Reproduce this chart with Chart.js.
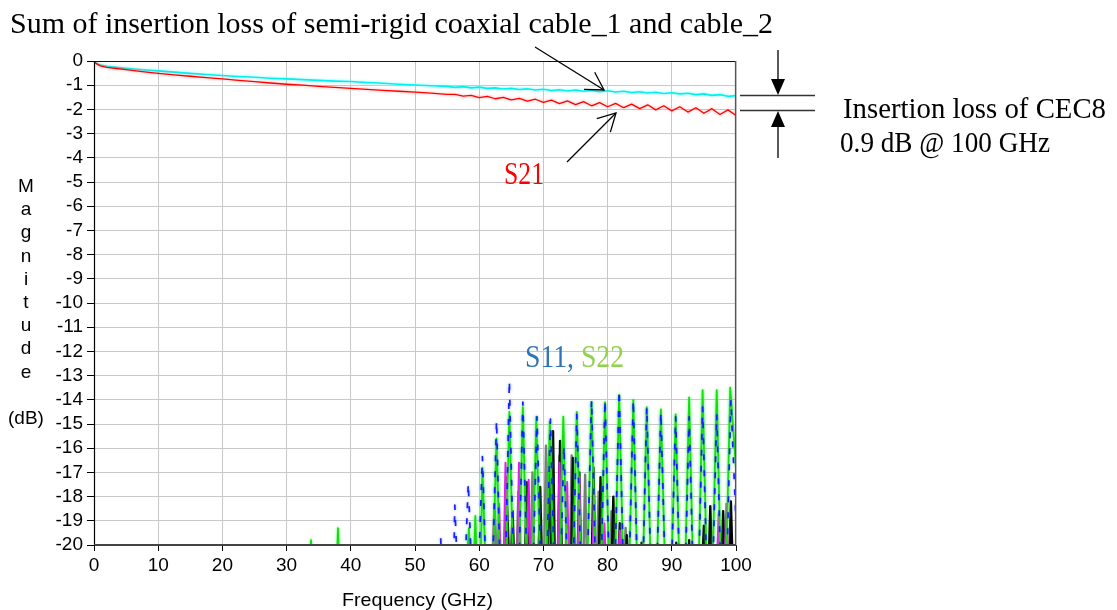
<!DOCTYPE html>
<html><head><meta charset="utf-8">
<script src="https://cdn.jsdelivr.net/npm/chart.js@4.4.1/dist/chart.umd.min.js"></script>
<style>
html,body{margin:0;padding:0;background:#fff;}
#wrap{position:relative;width:1117px;height:610px;overflow:hidden;background:#fff;}
canvas{position:absolute;left:0;top:0;}
.t{position:absolute;white-space:nowrap;transform-origin:0 0;}
.serif{font-family:"Liberation Serif","DejaVu Serif",serif;}
.sans{font-family:"Liberation Sans",Arial,sans-serif;}
</style></head><body>
<div id="wrap">
<canvas id="c" width="1117" height="610"></canvas>
<div class="t serif fit" data-w="763" style="left:10px;top:8px;font-size:30px;line-height:30px;color:#000;">Sum of insertion loss of semi-rigid coaxial cable_1 and cable_2</div>
<div class="t serif fit" data-w="263" style="left:843px;top:93px;font-size:30px;line-height:30px;color:#000;">Insertion loss of CEC8</div>
<div class="t serif fit" data-w="210" style="left:840px;top:127px;font-size:30px;line-height:30px;color:#000;">0.9 dB @ 100 GHz</div>
<div class="t serif fit" data-w="40" style="left:504px;top:157px;font-size:32px;line-height:32px;color:#ff0000;">S21</div>
<div class="t serif fit" data-w="99" style="left:525px;top:340px;font-size:32px;line-height:32px;"><span style="color:#2e75b6">S11, </span><span style="color:#92d050">S22</span></div>
<div class="t sans fit" data-w="151" style="left:342px;top:590px;font-size:19px;line-height:19px;color:#000;">Frequency (GHz)</div>
<div class="t sans" style="left:0px;top:174px;width:52px;text-align:center;font-size:19px;line-height:23.2px;color:#000;">M<br>a<br>g<br>n<br>i<br>t<br>u<br>d<br>e<br>&nbsp;<br>(dB)</div>
</div>
<script>
// ---------- data ----------
const xTicks = [0,10,20,30,40,50,60,70,80,90,100];
const yTicks = [0,-1,-2,-3,-4,-5,-6,-7,-8,-9,-10,-11,-12,-13,-14,-15,-16,-17,-18,-19,-20];

// Sum of insertion loss of semi-rigid coaxial cable_1 and cable_2 (cyan)
const cableFreq = [0,0.3,1,2,3.5,5,7.5,10,12.5,15,17.5,20,22.5,25,27.5,30,32.5,35,37.5,40,42.5,45,47.5,50,52.5,55,
  56.25,57.5,58.75,60,61.25,62.5,63.75,65,66.25,67.5,68.75,70,71.25,72.5,73.75,75,76.25,77.5,78.75,80,
  81.25,82.5,83.75,85,86.25,87.5,88.75,90,91.25,92.5,93.75,95,96.25,97.5,98.75,100];
const cableMag = [0,-0.09,-0.17,-0.22,-0.26,-0.3,-0.36,-0.41,-0.46,-0.51,-0.56,-0.6,-0.64,-0.67,-0.71,-0.74,-0.77,-0.8,-0.83,-0.85,-0.89,-0.92,-0.96,-0.99,-1.02,-1.05,
  -1.09,-1.06,-1.11,-1.08,-1.13,-1.11,-1.16,-1.13,-1.18,-1.15,-1.2,-1.17,-1.22,-1.19,-1.24,-1.2,-1.25,-1.22,-1.27,-1.23,
  -1.28,-1.25,-1.3,-1.27,-1.32,-1.29,-1.34,-1.31,-1.36,-1.33,-1.39,-1.36,-1.42,-1.39,-1.46,-1.43];

// S21 (red)
const s21Freq = [0,0.3,1,2,3.5,5,7.5,10,12.5,15,17.5,20,22.5,25,27.5,30,32.5,35,37.5,40,42.5,45,47.5,50,52.5,55,
  56.25,57.5,58.75,60,61.25,62.5,63.75,65,66.25,67.5,68.75,70,71.25,72.5,73.75,75,76.25,77.5,78.75,80,
  81.25,82.5,83.75,85,86.25,87.5,88.75,90,91.25,92.5,93.75,95,96.25,97.5,98.75,100];
const s21Mag = [0,-0.1,-0.2,-0.26,-0.31,-0.36,-0.44,-0.51,-0.57,-0.63,-0.69,-0.74,-0.8,-0.85,-0.91,-0.96,-1.0,-1.05,-1.09,-1.13,-1.17,-1.21,-1.25,-1.29,-1.33,-1.38,
  -1.38,-1.45,-1.42,-1.51,-1.46,-1.56,-1.5,-1.61,-1.54,-1.66,-1.58,-1.71,-1.62,-1.76,-1.65,-1.8,-1.68,-1.85,-1.72,-1.89,
  -1.75,-1.93,-1.78,-1.97,-1.81,-2.02,-1.85,-2.06,-1.89,-2.11,-1.93,-2.16,-1.97,-2.21,-2.02,-2.25];

// S11 (blue)
const s11Freq = [53.8,54.0,54.2,55.9,56.2,57.2,58.3,59.4,60.5,61.6,62.7,63.7,64.7,65.75,66.8,67.9,69.0,70.05,71.1,72.15,73.2,74.2,75.2,
  76.35,77.5,78.55,79.6,80.7,81.8,82.9,84.0,85.05,86.1,87.2,88.3,89.45,90.6,91.65,92.7,93.75,94.8,95.9,97.0,98.1,99.2,100];
const s11Mag = [-21,-19.7,-21,-23,-18.35,-25,-17.45,-25,-16.35,-26,-14.85,-26,-13.2,-26,-14.1,-26,-14.7,-26,-14.8,-26,-15.9,-26,-14.6,
  -26,-14.0,-26,-14.0,-26,-13.6,-26,-14.0,-26,-14.3,-26,-14.5,-26,-14.7,-26,-14.7,-26,-14.3,-26,-14.6,-26,-14.0,-19];

// S22 (green)
const s22Freq = [33.6,33.8,34.0,37.8,38.0,38.2,58.0,58.4,58.9,59.4,60.0,60.5,61.6,62.7,63.7,64.7,65.75,66.8,67.85,68.9,69.95,71.0,72.05,73.1,74.15,75.2,
  76.35,77.5,78.55,79.6,80.7,81.8,82.9,84.0,85.05,86.1,87.2,88.3,89.45,90.6,91.65,92.7,93.75,94.8,95.9,97.0,98.05,99.1,100];
const s22Mag = [-21,-19.8,-21,-21,-19.3,-21,-21,-19.3,-23,-18.8,-24,-16.8,-26,-15.6,-26,-14.5,-26,-14.3,-26,-14.7,-26,-14.9,-26,-14.7,-26,-14.5,
  -26,-14.1,-26,-14.1,-26,-13.8,-26,-14.0,-26,-14.3,-26,-14.4,-26,-14.6,-26,-13.9,-26,-13.6,-26,-13.6,-26,-13.5,-16.8];

// other traces (black, gray, magenta)
const blackFreq = [63.9,64.2,64.7,64.9,65.2,65.5,67.1,67.4,67.7,69.2,69.5,69.8,70.6,70.9,71.2,71.3,71.5,71.8,72.3,72.6,72.9,74.3,74.6,74.9,75.3,75.6,75.9,
  77.5,77.8,78.1,78.6,78.9,79.2,80.6,80.9,81.2,81.6,81.9,82.2,82.7,83.0,83.3,85.1,85.3,85.5,90.5,90.7,90.9,92.5,92.7,92.9,94.7,95.0,95.3,95.7,96.0,96.3,97.7,98.0,98.3,98.9,99.2,99.5];
const blackMag = [-21,-17.2,-21,-21,-18.6,-21,-21,-17.4,-21,-21,-17.6,-21,-21,-16.2,-21,-21,-15.3,-21,-21,-15.7,-21,-21,-16.4,-21,-21,-17.0,-21,
  -21,-16.8,-21,-21,-17.2,-21,-21,-18.0,-21,-21,-19.1,-21,-21,-19.6,-21,-21,-19.9,-21,-21,-19.9,-21,-21,-19.8,-21,-21,-19.2,-21,-21,-18.4,-21,-21,-18.6,-21,-21,-18.2,-21];
const grayFreq = [62.0,62.4,62.8,65.8,66.1,66.4,68.0,68.3,68.6,70.1,70.4,70.7,72.2,72.5,72.8,74.1,74.4,74.7,76.2,76.5,76.8,78.3,78.6,78.9,80.3,80.6,80.9,82.5,82.8,83.1];
const grayMag = [-21,-18.3,-21,-21,-17.8,-21,-21,-17.0,-21,-21,-15.9,-21,-21,-16.3,-21,-21,-16.3,-21,-21,-17.1,-21,-21,-17.8,-21,-21,-18.6,-21,-21,-19.3,-21];
const magentaFreq = [62.1,62.3,62.5,62.8,63.1,63.4,63.8,64.1,64.4,65.9,66.2,66.5,67.4,67.7,68.0,72.2,72.5,72.8,73.4,73.7,74.0,75.3,75.6,75.9,77.6,77.9,78.2,79.2,79.5,79.8,81.6,81.9,82.2,97.0,97.3,97.6,98.2,98.5,98.8];
const magentaMag = [-21,-18.9,-21,-21,-18.3,-21,-21,-16.6,-21,-21,-16.6,-21,-21,-17.3,-21,-21,-16.6,-21,-21,-17.4,-21,-21,-17.2,-21,-21,-17.8,-21,-21,-19.1,-21,-21,-19.4,-21,-21,-18.7,-21,-21,-18.3,-21];

// ---------- chart ----------
const pts = (f, v) => f.map((x, i) => ({x: x, y: v[i]}));
const line = (label, f, v, color, width, order, extra) => Object.assign({
  label, data: pts(f, v), borderColor: color, borderWidth: width, pointRadius: 0,
  fill: false, tension: 0, order, borderJoinStyle: 'round', spanGaps: true
}, extra || {});

Chart.defaults.font.family = "'Liberation Sans', Arial, sans-serif";
Chart.defaults.color = '#000';

const glowColors = {'S22': 'rgba(60,255,60,0.9)', 'Cable sum': 'rgba(120,255,255,0.9)', 'S11': 'rgba(90,110,255,0.6)', 'S21': 'rgba(255,120,120,0.7)'};
const glow = {
  id: 'glow',
  beforeDatasetDraw(chart, args) {
    const c = glowColors[chart.data.datasets[args.index].label];
    chart.ctx.save();
    if (c) { chart.ctx.shadowColor = c; chart.ctx.shadowBlur = 3; }
  },
  afterDatasetDraw(chart) { chart.ctx.restore(); }
};

const frame = {
  id: 'frame',
  afterDraw(chart) {
    const ctx = chart.ctx, a = chart.chartArea;
    ctx.save();
    ctx.lineWidth = 1.2;
    ctx.strokeStyle = '#111';
    ctx.beginPath(); ctx.moveTo(a.left, a.top + 0.5); ctx.lineTo(a.right, a.top + 0.5); ctx.stroke();
    ctx.strokeStyle = '#555';
    ctx.beginPath(); ctx.moveTo(a.right - 0.5, a.top); ctx.lineTo(a.right - 0.5, a.bottom); ctx.stroke();
    ctx.strokeStyle = '#000';
    ctx.beginPath(); ctx.moveTo(a.left + 0.5, a.top); ctx.lineTo(a.left + 0.5, a.bottom); ctx.stroke();
    ctx.strokeStyle = '#444';
    ctx.beginPath(); ctx.moveTo(a.left, a.bottom - 0.5); ctx.lineTo(a.right, a.bottom - 0.5); ctx.stroke();

    // annotation arrows
    const open = (x1, y1, x2, y2, len, half) => {
      ctx.beginPath(); ctx.moveTo(x1, y1); ctx.lineTo(x2, y2); ctx.stroke();
      const ang = Math.atan2(y1 - y2, x1 - x2);
      ctx.beginPath();
      ctx.moveTo(x2 + len * Math.cos(ang - half), y2 + len * Math.sin(ang - half));
      ctx.lineTo(x2, y2);
      ctx.lineTo(x2 + len * Math.cos(ang + half), y2 + len * Math.sin(ang + half));
      ctx.stroke();
    };
    ctx.strokeStyle = '#000';
    ctx.lineWidth = 1.3;
    open(535, 47, 604, 90, 20, 0.53);
    open(567, 162, 616, 113, 20, 0.5);

    ctx.strokeStyle = '#333';
    ctx.lineWidth = 1.3;
    ctx.beginPath(); ctx.moveTo(740, 95.5); ctx.lineTo(815, 95.5); ctx.stroke();
    ctx.beginPath(); ctx.moveTo(740, 110.5); ctx.lineTo(815, 110.5); ctx.stroke();
    ctx.strokeStyle = '#000';
    ctx.beginPath(); ctx.moveTo(778, 50); ctx.lineTo(778, 82); ctx.stroke();
    ctx.beginPath(); ctx.moveTo(778, 158); ctx.lineTo(778, 124); ctx.stroke();
    ctx.fillStyle = '#000';
    ctx.beginPath(); ctx.moveTo(771, 79); ctx.lineTo(785, 79); ctx.lineTo(778, 95); ctx.closePath(); ctx.fill();
    ctx.beginPath(); ctx.moveTo(771, 127); ctx.lineTo(785, 127); ctx.lineTo(778, 111); ctx.closePath(); ctx.fill();
    ctx.restore();
  }
};

new Chart(document.getElementById('c'), {
  type: 'line',
  data: {
    datasets: [
      line('Cable sum', cableFreq, cableMag, '#00f0f0', 1.6, 1),
      line('S21', s21Freq, s21Mag, '#ff0000', 1.3, 0),
      line('S11', s11Freq, s11Mag, '#1020ff', 1.7, 2, {borderDash: [6, 10]}),
      line('S22', s22Freq, s22Mag, '#10e010', 1.8, 3),
      line('Magenta', magentaFreq, magentaMag, '#ff00ff', 2, 4),
      line('Black', blackFreq, blackMag, '#000000', 2.4, 5),
      line('Gray', grayFreq, grayMag, '#7a7a7a', 2.4, 6)
    ]
  },
  options: {
    responsive: false,
    animation: false,
    devicePixelRatio: 1,
    events: [],
    layout: {padding: {left: 0, top: 61, right: 381, bottom: 0}},
    plugins: {legend: {display: false}, tooltip: {enabled: false}},
    scales: {
      x: {
        type: 'linear', min: 0, max: 100,
        afterFit: s => { s.height = 65; },
        afterBuildTicks: s => { s.ticks = xTicks.map(v => ({value: v})); },
        ticks: {font: {size: 19}, color: '#000', padding: 3, maxRotation: 0, autoSkip: false},
        grid: {color: '#c8c8c8', lineWidth: 1, tickColor: '#000', tickLength: 6},
        border: {color: '#444', width: 1}
      },
      y: {
        type: 'linear', min: -20, max: 0,
        afterFit: s => { s.width = 94; },
        afterBuildTicks: s => { s.ticks = yTicks.map(v => ({value: v})); },
        ticks: {font: {size: 19}, color: '#000', padding: 4, autoSkip: false},
        grid: {color: '#c8c8c8', lineWidth: 1, tickColor: '#000', tickLength: 7},
        border: {color: '#000', width: 1}
      }
    }
  },
  plugins: [glow, frame]
});

// fit annotation text widths
document.querySelectorAll('.fit').forEach(el => {
  const w = el.getBoundingClientRect().width;
  const target = parseFloat(el.dataset.w);
  if (w > 0) el.style.transform = 'scaleX(' + (target / w) + ')';
});
</script>
</body></html>
